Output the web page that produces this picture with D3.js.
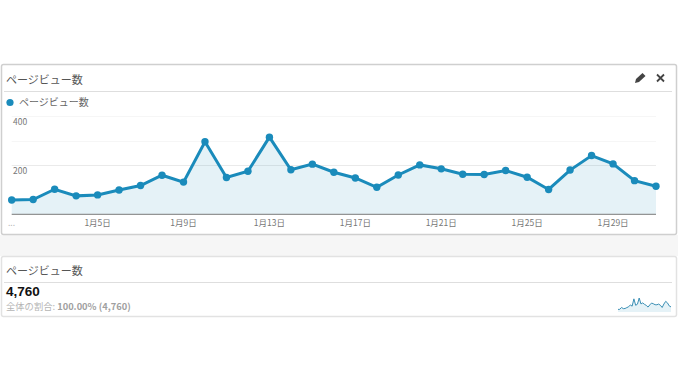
<!DOCTYPE html>
<html lang="ja">
<head>
<meta charset="UTF-8">
<script src="https://d3js.org/d3.v7.min.js"></script>
<style>
  html, body { margin: 0; padding: 0; background: #fff; }
  svg { display: block; }
  text { font-family: "Noto Sans CJK JP", "Noto Sans", sans-serif; }
</style>
</head>
<body>
<script>
// page views per day, January
var days = d3.range(1, 32);
var pageViews = [58, 60, 102, 75, 79, 99, 117, 159, 131, 295, 150, 175, 314, 181, 204, 171,
                 148, 110, 160, 201, 185, 163, 162, 178, 151, 101, 180, 239, 205, 137, 114];
var yTicks = [200, 400];
var gridValues = [200, 300, 400];
var xTickDays = [5, 9, 13, 17, 21, 25, 29];
var metricName = "ページビュー数";
var totalLabel = "4,760";
var shareLabel = "全体の割合: ";
var shareValue = "100.00% (4,760)";

var blue = "#1a8bbb";

var svg = d3.select("body").append("svg")
    .attr("width", 678)
    .attr("height", 381);

// grey strip between the two cards
svg.append("rect").attr("x", 0).attr("y", 235).attr("width", 678).attr("height", 21).attr("fill", "#f6f6f6");

function card(y, h, stroke, w) {
    svg.append("rect")
        .attr("x", 1.5).attr("y", y + 0.5)
        .attr("width", 675).attr("height", h)
        .attr("rx", 2)
        .attr("fill", "#fff")
        .attr("stroke", stroke)
        .attr("stroke-width", w);
}
card(64, 170, "#cfcfcf", 1.5);
card(256, 60, "#e2e2e2", 1.5);

function title(y) {
    svg.append("text").attr("x", 6).attr("y", y)
        .attr("font-size", 11).attr("fill", "#555").text(metricName);
}
title(83.5);
title(275);

svg.append("line").attr("x1", 4).attr("x2", 672).attr("y1", 91.5).attr("y2", 91.5).attr("stroke", "#dedede");
svg.append("line").attr("x1", 4).attr("x2", 672).attr("y1", 282.5).attr("y2", 282.5).attr("stroke", "#dedede");

// legend
svg.append("circle").attr("cx", 10).attr("cy", 102.5).attr("r", 3.6).attr("fill", blue);
svg.append("text").attr("x", 19).attr("y", 106)
    .attr("font-size", 10).attr("fill", "#666").text(metricName);

// main chart
var x = d3.scaleLinear().domain([1, 31]).range([11.7, 656]);
var y = d3.scaleLinear().domain([0, 400]).range([214.3, 116]);

var grid = svg.append("g");
grid.selectAll("line")
    .data(gridValues)
    .enter()
    .append("line")
    .attr("x1", 11.7).attr("x2", 656)
    .attr("y1", function (d) { return Math.round(y(d)) + 0.5; })
    .attr("y2", function (d) { return Math.round(y(d)) + 0.5; })
    .attr("stroke", function (d) { return d == 200 ? "#eaeaea" : "#f6f6f6"; });

var area = d3.area()
    .x(function (d, i) { return x(days[i]); })
    .y0(y(0))
    .y1(function (d) { return y(d); });
var line = d3.line()
    .x(function (d, i) { return x(days[i]); })
    .y(function (d) { return y(d); });

svg.append("path").attr("d", area(pageViews)).attr("fill", "#1a8bbb").attr("fill-opacity", 0.115);

svg.append("line")
    .attr("x1", 11.7).attr("x2", 656)
    .attr("y1", y(0)).attr("y2", y(0))
    .attr("stroke", "#7a7a7a");

svg.append("path").attr("d", line(pageViews))
    .attr("fill", "none").attr("stroke", blue).attr("stroke-width", 3);

svg.selectAll("circle.pt")
    .data(pageViews)
    .enter()
    .append("circle")
    .attr("class", "pt")
    .attr("cx", function (d, i) { return x(days[i]); })
    .attr("cy", function (d) { return y(d); })
    .attr("r", 3.7)
    .attr("fill", blue);

// y labels sit just under their gridlines
svg.selectAll("text.ytick")
    .data(yTicks)
    .enter()
    .append("text")
    .attr("class", "ytick")
    .attr("x", 13).attr("y", function (d) { return y(d) + 9; })
    .attr("font-size", 8.5).attr("fill", "#777")
    .text(function (d) { return d; });

svg.selectAll("text.xtick")
    .data(xTickDays)
    .enter()
    .append("text")
    .attr("class", "xtick")
    .attr("x", function (d) { return x(d); })
    .attr("y", 225.5)
    .attr("text-anchor", "middle")
    .attr("font-size", 8.5).attr("fill", "#777")
    .text(function (d) { return "1月" + d + "日"; });

svg.append("text").attr("x", 8).attr("y", 225.5)
    .attr("font-size", 8.5).attr("fill", "#bbb").text("...");

// pencil and close icons
svg.append("path")
    .attr("d", "M635 83 L636 79 L642.5 73 L645.5 76 L639 82 Z")
    .attr("fill", "#444");
svg.append("path")
    .attr("d", "M657 74.5 L664 81.5 M664 74.5 L657 81.5")
    .attr("stroke", "#444").attr("stroke-width", 1.8);

// totals
svg.append("text").attr("x", 6).attr("y", 296)
    .attr("font-size", 13.5).attr("font-weight", 700).attr("fill", "#111")
    .style("font-family", "'Liberation Sans', sans-serif")
    .text(totalLabel);
var share = svg.append("text").attr("x", 6).attr("y", 309.8).attr("font-size", 9.3).attr("fill", "#b5b5b5");
share.append("tspan").text(shareLabel);
share.append("tspan").attr("font-weight", 700).attr("fill", "#a0a0a0").text(shareValue);

// sparkline
var sx = d3.scaleLinear().domain([1, 31]).range([618, 671]);
var sy = d3.scaleLinear().domain([0, 314]).range([312, 298]);
var sparkArea = d3.area()
    .x(function (d, i) { return sx(days[i]); })
    .y0(sy(0))
    .y1(function (d) { return sy(d); });
var sparkLine = d3.line()
    .x(function (d, i) { return sx(days[i]); })
    .y(function (d) { return sy(d); });
svg.append("path").attr("d", sparkArea(pageViews)).attr("fill", "#1a8bbb").attr("fill-opacity", 0.115);
svg.append("path").attr("d", sparkLine(pageViews)).attr("fill", "none").attr("stroke", "#3a8fb5").attr("stroke-width", 1);
</script>
</body>
</html>
